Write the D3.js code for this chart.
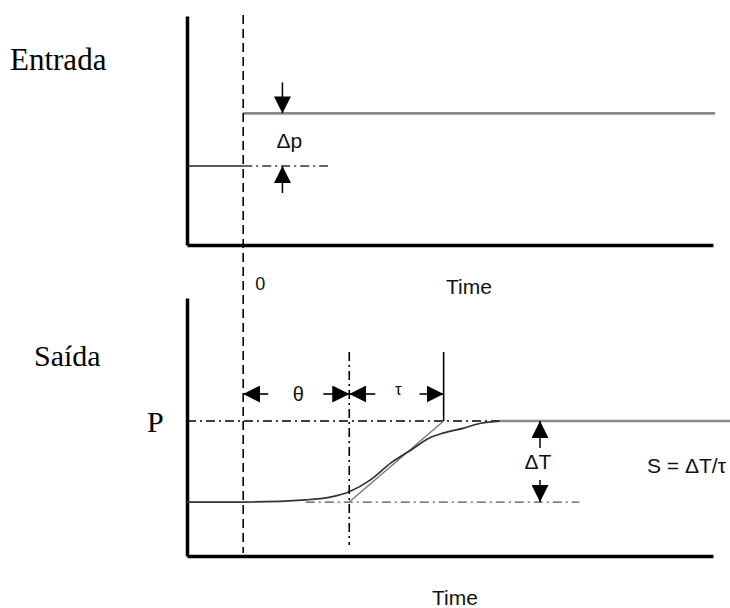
<!DOCTYPE html>
<html>
<head>
<meta charset="utf-8">
<script src="https://cdn.jsdelivr.net/npm/d3@7"></script>
<style>
  html, body { margin: 0; padding: 0; background: #fff; }
  svg { display: block; }
  .serif { font-family: "Liberation Serif", "Times New Roman", serif; fill: #000; }
  .sans { font-family: "Liberation Sans", Arial, sans-serif; fill: #111; }
</style>
</head>
<body>
<svg id="chart" width="730" height="608"></svg>
<script>
// Time axis shared by both panels (arbitrary units, step at t = 0)
const timeDomain = [-5.3, 44.3];
const deadTime = 10;          // θ
const timeConst = 8.9;        // τ

// Input (Entrada): step of Δp
const inputDomain = [0, 8.7];
const inputLow = 3;
const inputHigh = 5;

// Output (Saída): process reaction curve
const outputDomain = [0, 4.78];
const outputLow = 1;
const outputHigh = 2.5;       // P
const curveTime  = [-5.3, 0, 5.9, 8.2, 10, 12, 13.9, 15.8, 17.6, 18.9, 20.8, 22.4, 24.2];
const curveValue = [1.0, 1.0, 1.04, 1.09, 1.19, 1.41, 1.72, 1.96, 2.19, 2.28, 2.37, 2.46, 2.5];

// Labels
const panelLabels = ["Entrada", "Saída"];
const axisTitle = "Time";
const zeroLabel = "0";
const slopeLabel = "S = \u0394T/\u03c4";

const svg = d3.select("#chart");

const x = d3.scaleLinear().domain(timeDomain).range([187, 713]);
const yIn = d3.scaleLinear().domain(inputDomain).range([245, 16]);
const yOut = d3.scaleLinear().domain(outputDomain).range([556, 298]);

// arrow markers
const defs = svg.append("defs");
defs.append("marker")
  .attr("id", "arrow")
  .attr("viewBox", "0 0 10 10")
  .attr("refX", 10).attr("refY", 5)
  .attr("markerWidth", 17).attr("markerHeight", 17)
  .attr("markerUnits", "userSpaceOnUse")
  .attr("orient", "auto")
  .append("path")
  .attr("d", "M0,0 L10,5 L0,10 Z")
  .attr("fill", "#000");

const dashDot = "9,4,2,4";

function axes(g, y) {
  g.append("g")
    .attr("transform", `translate(0,${y(0)})`)
    .call(d3.axisBottom(x).tickValues([]).tickSizeOuter(0))
    .call(s => s.select(".domain").attr("stroke", "#000").attr("stroke-width", 3.5));
  g.append("g")
    .attr("transform", `translate(${x(timeDomain[0])},0)`)
    .call(d3.axisLeft(y).tickValues([]).tickSizeOuter(0))
    .call(s => s.select(".domain").attr("stroke", "#000").attr("stroke-width", 3.5));
}

function vArrow(g, xp, from, to) {
  g.append("line")
    .attr("x1", xp).attr("x2", xp)
    .attr("y1", from).attr("y2", to)
    .attr("stroke", "#000").attr("stroke-width", 1.5)
    .attr("marker-end", "url(#arrow)");
}

// ---------- Input panel ----------
const gIn = svg.append("g");
axes(gIn, yIn);

// step: low level before t=0
gIn.append("line")
  .attr("x1", x(timeDomain[0])).attr("x2", x(0))
  .attr("y1", yIn(inputLow)).attr("y2", yIn(inputLow))
  .attr("stroke", "#222").attr("stroke-width", 1.6);
// dash-dot extension of the initial level
gIn.append("line")
  .attr("x1", x(0)).attr("x2", x(8))
  .attr("y1", yIn(inputLow)).attr("y2", yIn(inputLow))
  .attr("stroke", "#333").attr("stroke-width", 1.4)
  .attr("stroke-dasharray", dashDot);
// high level after t=0
gIn.append("line")
  .attr("x1", x(0)).attr("x2", x(44.5))
  .attr("y1", yIn(inputHigh)).attr("y2", yIn(inputHigh))
  .attr("stroke", "#8a8a8a").attr("stroke-width", 2.6);

// Δp arrows
const dpX = x(3.7);
vArrow(gIn, dpX, yIn(inputHigh) - 31, yIn(inputHigh));
vArrow(gIn, dpX, yIn(inputLow) + 27, yIn(inputLow));
gIn.append("text").attr("class", "sans")
  .attr("x", dpX - 6).attr("y", (yIn(inputHigh) + yIn(inputLow)) / 2 + 8)
  .attr("font-size", 21).text("\u0394p");

gIn.append("text").attr("class", "sans")
  .attr("x", x(0) + 12).attr("y", 290)
  .attr("font-size", 18).text(zeroLabel);
gIn.append("text").attr("class", "sans")
  .attr("x", 446).attr("y", 294)
  .attr("font-size", 21).text(axisTitle);

// ---------- Output panel ----------
const gOut = svg.append("g");
axes(gOut, yOut);

// final level P: dash-dot up to where the curve settles, then solid gray
gOut.append("line")
  .attr("x1", x(timeDomain[0])).attr("x2", x(24.2))
  .attr("y1", yOut(outputHigh)).attr("y2", yOut(outputHigh))
  .attr("stroke", "#000").attr("stroke-width", 1.6)
  .attr("stroke-dasharray", dashDot);
gOut.append("line")
  .attr("x1", x(24.2)).attr("x2", 730)
  .attr("y1", yOut(outputHigh)).attr("y2", yOut(outputHigh))
  .attr("stroke", "#8a8a8a").attr("stroke-width", 2.6);

// initial level dash-dot extension
gOut.append("line")
  .attr("x1", x(5.9)).attr("x2", x(31.7))
  .attr("y1", yOut(outputLow)).attr("y2", yOut(outputLow))
  .attr("stroke", "#555").attr("stroke-width", 1.3)
  .attr("stroke-dasharray", dashDot);

// tangent line through the inflection point
gOut.append("line")
  .attr("x1", x(deadTime)).attr("x2", x(deadTime + timeConst))
  .attr("y1", yOut(outputLow)).attr("y2", yOut(outputHigh))
  .attr("stroke", "#777").attr("stroke-width", 1.4);

// reaction curve
const curve = curveTime.map((t, i) => [t, curveValue[i]]);
gOut.append("path")
  .datum(curve)
  .attr("fill", "none")
  .attr("stroke", "#333").attr("stroke-width", 1.7)
  .attr("d", d3.line().x(d => x(d[0])).y(d => yOut(d[1])).curve(d3.curveMonotoneX));

// θ end: vertical dash-dot
gOut.append("line")
  .attr("x1", x(deadTime)).attr("x2", x(deadTime))
  .attr("y1", 352).attr("y2", 545)
  .attr("stroke", "#000").attr("stroke-width", 1.6)
  .attr("stroke-dasharray", dashDot);
// τ end: solid vertical
gOut.append("line")
  .attr("x1", x(deadTime + timeConst)).attr("x2", x(deadTime + timeConst))
  .attr("y1", 352).attr("y2", yOut(outputHigh))
  .attr("stroke", "#000").attr("stroke-width", 1.6);

// θ and τ dimension arrows
const arrY = 394;
function hArrow(from, to) {
  gOut.append("line")
    .attr("x1", from).attr("x2", to)
    .attr("y1", arrY).attr("y2", arrY)
    .attr("stroke", "#000").attr("stroke-width", 1.6)
    .attr("marker-end", "url(#arrow)");
}
hArrow(x(0) + 25, x(0));
hArrow(x(deadTime) - 26, x(deadTime));
hArrow(x(deadTime) + 26, x(deadTime));
hArrow(x(deadTime + timeConst) - 24, x(deadTime + timeConst));
gOut.append("text").attr("class", "sans")
  .attr("x", (x(0) + x(deadTime)) / 2 + 2).attr("y", arrY + 7)
  .attr("text-anchor", "middle").attr("font-size", 20).text("\u03b8");
gOut.append("text").attr("class", "sans")
  .attr("x", (x(deadTime) + x(deadTime + timeConst)) / 2 + 2).attr("y", arrY + 1)
  .attr("text-anchor", "middle").attr("font-size", 17).text("\u03c4");

// ΔT arrows
const dtX = 540;
vArrow(gOut, dtX, yOut(outputHigh) + 27, yOut(outputHigh));
vArrow(gOut, dtX, yOut(outputLow) - 22, yOut(outputLow));
gOut.append("text").attr("class", "sans")
  .attr("x", dtX - 2).attr("y", 469)
  .attr("text-anchor", "middle").attr("font-size", 21).text("\u0394T");

gOut.append("text").attr("class", "sans")
  .attr("x", 647).attr("y", 473)
  .attr("font-size", 21).text(slopeLabel);

gOut.append("text").attr("class", "sans")
  .attr("x", 432).attr("y", 605)
  .attr("font-size", 21).text(axisTitle);

// ---------- shared vertical at t = 0 ----------
svg.append("line")
  .attr("x1", x(0)).attr("x2", x(0))
  .attr("y1", 15).attr("y2", 553)
  .attr("stroke", "#000").attr("stroke-width", 1.6)
  .attr("stroke-dasharray", "9,5");

// ---------- panel labels ----------
svg.append("text").attr("class", "serif")
  .attr("x", 10).attr("y", 70)
  .attr("font-size", 31).text(panelLabels[0]);
svg.append("text").attr("class", "serif")
  .attr("x", 34).attr("y", 366)
  .attr("font-size", 30).text(panelLabels[1]);
svg.append("text").attr("class", "serif")
  .attr("x", 147).attr("y", 432)
  .attr("font-size", 30).text("P");
</script>
</body>
</html>
